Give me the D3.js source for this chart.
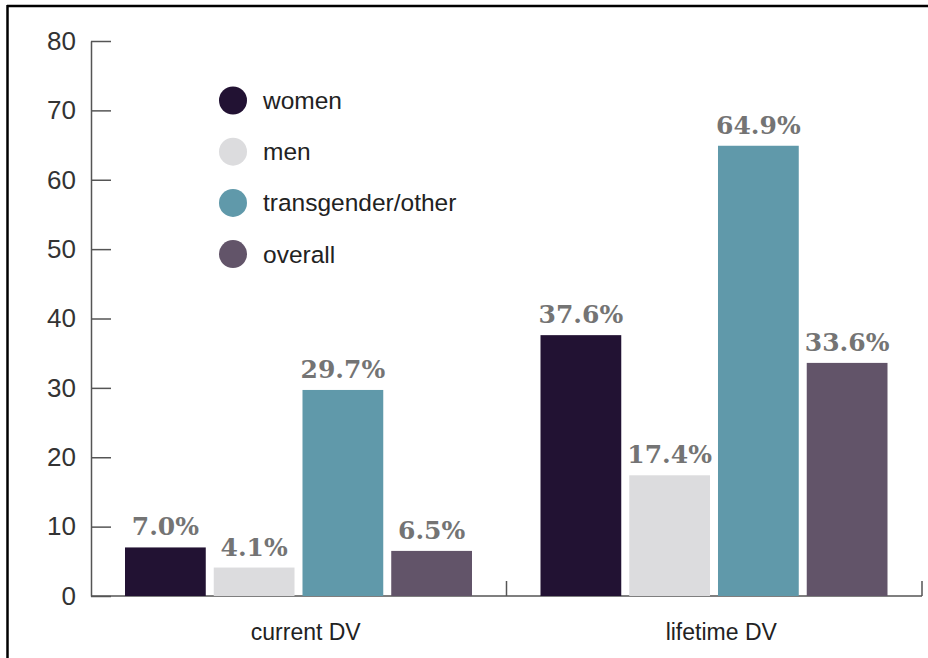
<!DOCTYPE html>
<html>
<head>
<meta charset="utf-8">
<script src="https://cdn.jsdelivr.net/npm/d3@7"></script>
<style>
  body { margin: 0; background: #fff; }
  svg { display: block; }
</style>
</head>
<body>
<div id="chart"></div>
<script>
// Data
const categories = ["current DV", "lifetime DV"];
const series = ["women", "men", "transgender/other", "overall"];
const women = [7.0, 37.6];
const men = [4.1, 17.4];
const transgender = [29.7, 64.9];
const overall = [6.5, 33.6];
const yTicks = [0, 10, 20, 30, 40, 50, 60, 70, 80];
const colors = ["#221233", "#dcdcde", "#6099aa", "#625469"];

const values = [women, men, transgender, overall];
const data = categories.map((c, i) => ({
    category: c,
    bars: series.map((s, j) => ({ key: s, value: values[j][i], color: colors[j] }))
}));

const W = 928, H = 658;
const sans = "'Liberation Sans', Arial, sans-serif";
const svg = d3.select("#chart").append("svg")
    .attr("width", W)
    .attr("height", H);

// Frame lines (top and left)
svg.append("line").attr("x1", 7).attr("x2", W).attr("y1", 6).attr("y2", 6)
    .style("stroke", "#000").style("stroke-width", 2.5);
svg.append("line").attr("x1", 7.5).attr("x2", 7.5).attr("y1", 5).attr("y2", H)
    .style("stroke", "#000").style("stroke-width", 2.5);

// Scales
const y = d3.scaleLinear().domain([0, 80]).range([596, 41]);
const x0 = d3.scaleBand().domain(categories).range([91, 922]);
const x1 = d3.scaleBand().domain(series).range([34, 381]).paddingInner(0.09);

// Y axis, ticks pointing inward
const yAxis = svg.append("g")
    .attr("transform", "translate(91,0)")
    .call(d3.axisLeft(y).tickValues(yTicks).tickSize(-20).tickSizeOuter(0).tickPadding(15));
yAxis.select(".domain").style("stroke", "#555").style("stroke-width", 1.5);
yAxis.selectAll(".tick line").style("stroke", "#555").style("stroke-width", 1.5);
yAxis.selectAll(".tick text")
    .style("font-family", sans)
    .style("font-size", "26px")
    .style("fill", "#333");

// X baseline with group separators
svg.append("line")
    .attr("x1", 91).attr("x2", x0.range()[1])
    .attr("y1", y(0)).attr("y2", y(0))
    .style("stroke", "#555").style("stroke-width", 1.5);
svg.selectAll(".xtick")
    .data(categories)
    .enter()
    .append("line")
    .attr("class", "xtick")
    .attr("x1", d => x0(d) + x0.bandwidth())
    .attr("x2", d => x0(d) + x0.bandwidth())
    .attr("y1", y(0))
    .attr("y2", y(0) - 15)
    .style("stroke", "#555").style("stroke-width", 1.5);

svg.selectAll(".xlabel")
    .data(categories)
    .enter()
    .append("text")
    .attr("class", "xlabel")
    .attr("x", d => x0(d) + x0.bandwidth() / 2 + 7)
    .attr("y", 640)
    .attr("text-anchor", "middle")
    .style("font-family", sans)
    .style("font-size", "23px")
    .style("fill", "#222")
    .text(d => d);

// Bars
const groups = svg.selectAll(".group")
    .data(data)
    .enter()
    .append("g")
    .attr("class", "group")
    .attr("transform", d => `translate(${x0(d.category)},0)`);

groups.selectAll("rect")
    .data(d => d.bars)
    .enter()
    .append("rect")
    .attr("x", d => x1(d.key))
    .attr("y", d => y(d.value))
    .attr("width", x1.bandwidth())
    .attr("height", d => y(0) - y(d.value))
    .style("fill", d => d.color);

groups.selectAll(".val")
    .data(d => d.bars)
    .enter()
    .append("text")
    .attr("class", "val")
    .attr("x", d => x1(d.key) + x1.bandwidth() / 2)
    .attr("y", d => y(d.value) - 12)
    .attr("text-anchor", "middle")
    .style("font-family", "'DejaVu Serif', serif")
    .style("font-weight", "bold")
    .style("font-size", "25px")
    .style("fill", "#747474")
    .text(d => d.value.toFixed(1) + "%");

// Legend
const legend = svg.selectAll(".legend")
    .data(series)
    .enter()
    .append("g")
    .attr("class", "legend")
    .attr("transform", (d, i) => `translate(233,${100.5 + i * 51.2})`);

legend.append("circle")
    .attr("r", 14)
    .style("fill", (d, i) => colors[i]);

legend.append("text")
    .attr("x", 30)
    .attr("dy", "0.35em")
    .style("font-family", sans)
    .style("font-size", "24.5px")
    .style("fill", "#222")
    .text(d => d);
</script>
</body>
</html>
